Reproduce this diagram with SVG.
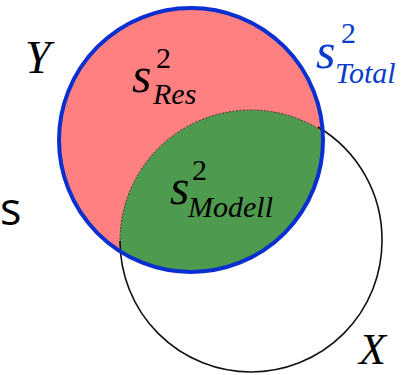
<svg xmlns="http://www.w3.org/2000/svg" width="415" height="375" viewBox="0 0 415 375">
<style>
.serif{font-family:"Liberation Serif","Times New Roman",serif;font-style:italic}
.big{font-size:50px}
.sup{font-size:30px;font-style:normal}
.sub{font-size:30px}
.lbl{font-size:46px}
</style>
<defs>
<clipPath id="yclip"><circle cx="191" cy="140" r="132"/></clipPath>
</defs>
<g id="Y">
<circle cx="191" cy="140" r="132" fill="#ff8080"/>
</g>
<g id="overlap">
<circle cx="251" cy="241" r="131" fill="#4e9a4e" clip-path="url(#yclip)"/>
<circle cx="251" cy="241" r="131" fill="none" stroke="#333" stroke-width="1" stroke-dasharray="2 1.5" clip-path="url(#yclip)"/>
</g>
<g id="X">
<path d="M120,241 A131,131 0 0 0 382,241 A131,131 0 0 0 318,127" fill="none" stroke="#111" stroke-width="1.6"/>
</g>
<g id="Ystroke">
<circle cx="191" cy="140" r="132" fill="none" stroke="#0a2fd0" stroke-width="4"/>
</g>
<g id="labels">
<text class="serif lbl" x="25" y="73">Y</text>
<text class="serif" font-size="44" x="359" y="364">X</text>
<text x="0" y="225" font-family="'Open Sans','Noto Sans',sans-serif" font-size="45">s</text>
<text class="serif" x="132" y="92"><tspan class="big">s</tspan><tspan class="sup" x="156" y="68">2</tspan><tspan class="sub" x="153" y="104">Res</tspan></text>
<text class="serif" fill="#0a3ccc" x="316" y="68"><tspan class="big">s</tspan><tspan class="sup" x="341" y="43">2</tspan><tspan class="sub" x="335" y="83">Total</tspan></text>
<text class="serif" x="170" y="204"><tspan class="big">s</tspan><tspan class="sup" x="192" y="180">2</tspan><tspan class="sub" x="188" y="217">Modell</tspan></text>
</g>
</svg>
